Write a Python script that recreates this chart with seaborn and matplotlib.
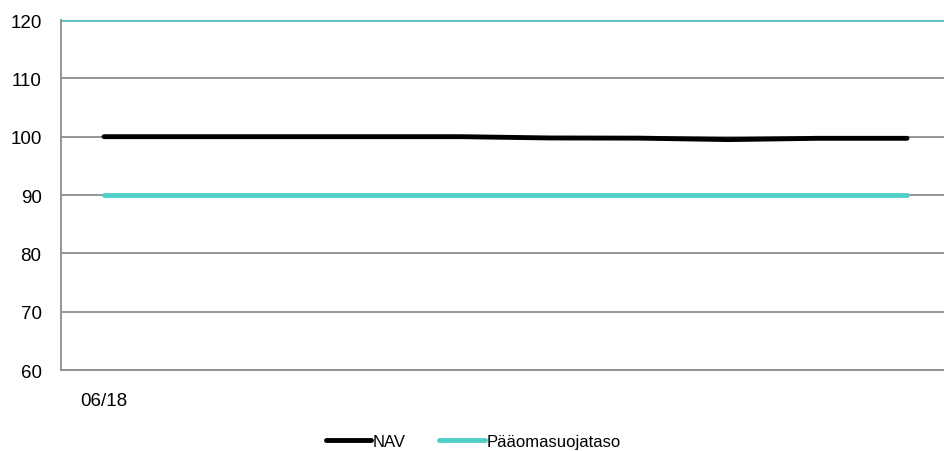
import pandas as pd
import matplotlib.pyplot as plt
import seaborn as sns

# Values
periods = list(range(10))
nav = [100.0, 100.0, 100.0, 100.0, 100.0, 99.78, 99.75, 99.5, 99.72, 99.72]
protection = [90.0] * 10
x_labels = ['06/18'] + [''] * 9
y_ticks = [60, 70, 80, 90, 100, 110, 120]

df = pd.DataFrame({'period': periods, 'NAV': nav, 'Pääomasuojataso': protection})

sns.set_style('white')
plt.rcParams['font.family'] = ['Liberation Sans', 'DejaVu Sans']
plt.rcParams['text.color'] = 'black'
plt.rcParams['xtick.labelcolor'] = 'black'
plt.rcParams['ytick.labelcolor'] = 'black'

fig = plt.figure(figsize=(9.44, 4.52), dpi=100)
ax = fig.add_axes([0.0646, 0.1792, 0.9354, 0.7743])

sns.lineplot(data=df, x='period', y='NAV', ax=ax, color='black', linewidth=3.5,
             label='NAV', solid_capstyle='round')
sns.lineplot(data=df, x='period', y='Pääomasuojataso', ax=ax, color='#4ECFC8',
             linewidth=3.5, label='Pääomasuojataso', solid_capstyle='round')

ax.set_xlim(-0.482, 9.415)
ax.set_ylim(60, 120)
ax.set_yticks(y_ticks)
ax.set_xticks(periods)
ax.set_xticklabels(x_labels)
ax.set_xlabel('')
ax.set_ylabel('')

ax.yaxis.grid(True, color='#8C8C8C', linewidth=1.3)
ax.set_axisbelow(True)
ax.get_ygridlines()[-1].set_color('#5BBFB9')
ax.get_ygridlines()[-1].set_linewidth(2)

for s in ['top', 'right']:
    ax.spines[s].set_visible(False)
ax.spines['left'].set_color('#8C8C8C')
ax.spines['left'].set_linewidth(1.3)
ax.spines['bottom'].set_color('#8C8C8C')
ax.spines['bottom'].set_linewidth(1.3)

ax.tick_params(axis='y', length=5, width=1.3, color='#8C8C8C', pad=9, labelsize=13.5)
ax.tick_params(axis='x', length=0, pad=16, labelsize=13.5)

ax.legend(loc='upper center', bbox_to_anchor=(0.467, -0.14), ncol=2, frameon=False,
          fontsize=12, handlelength=2.75, handletextpad=0.1, columnspacing=2.0)

plt.savefig('out.png', dpi=100)
